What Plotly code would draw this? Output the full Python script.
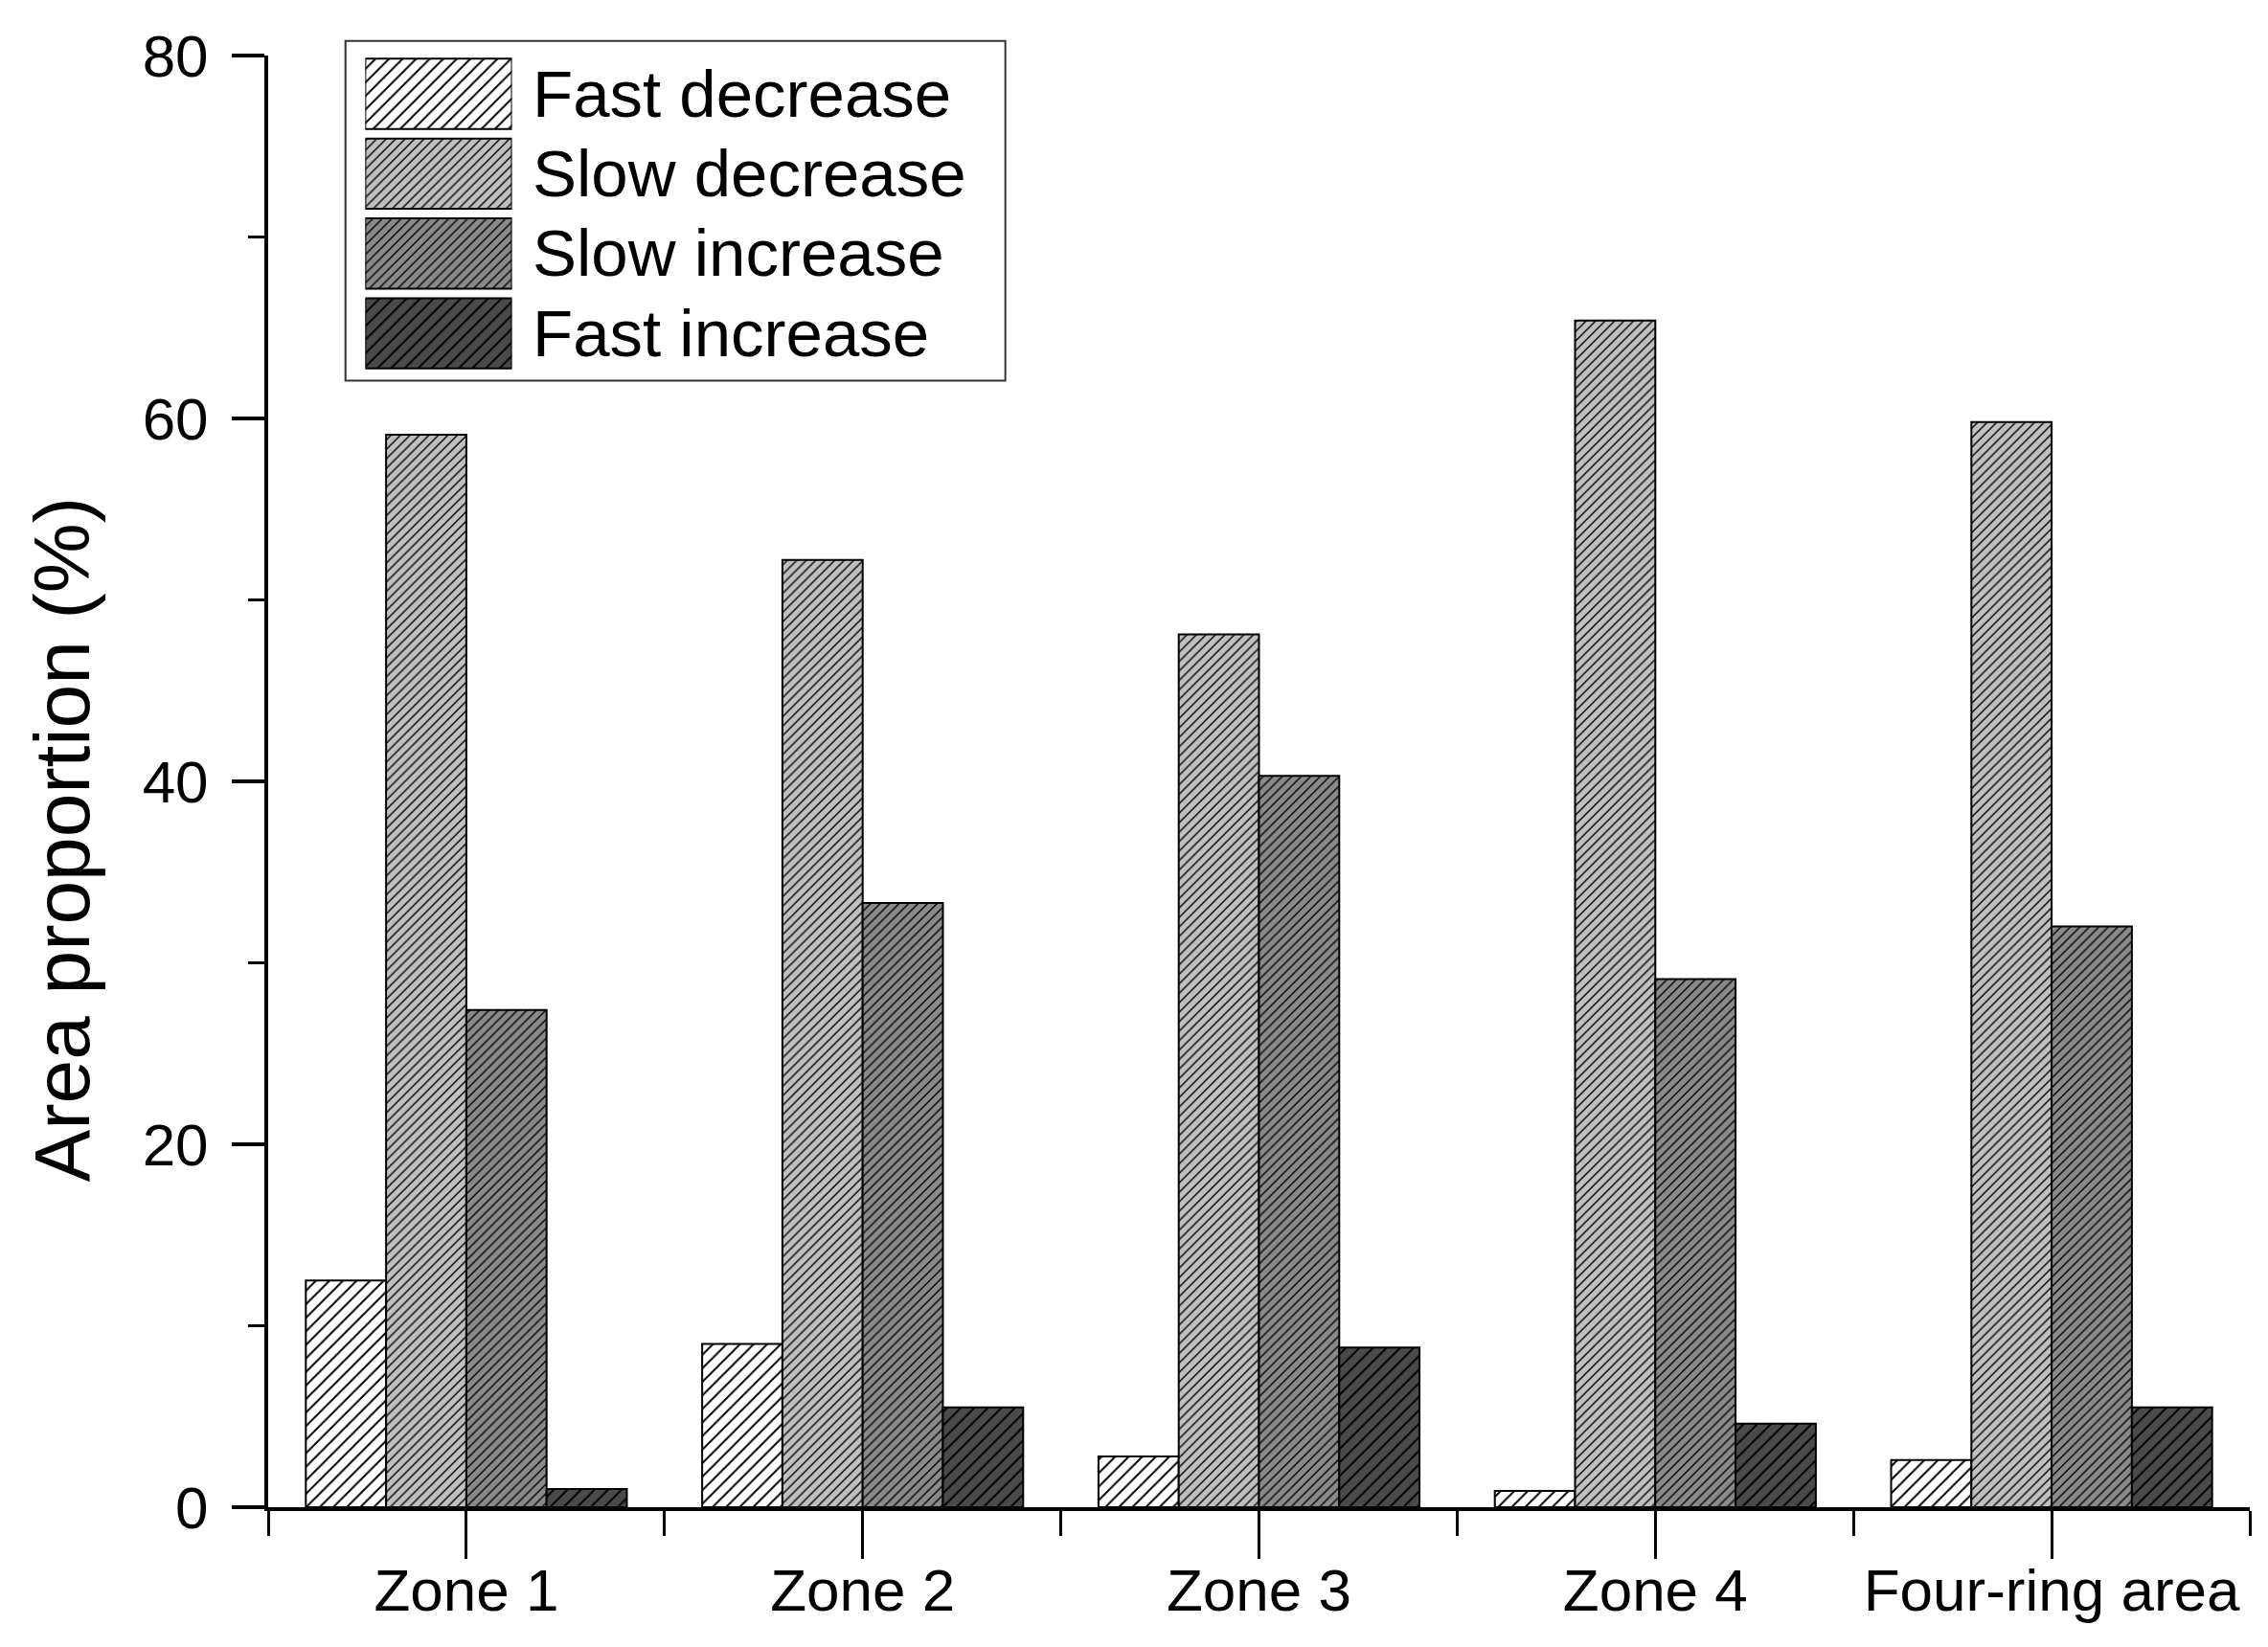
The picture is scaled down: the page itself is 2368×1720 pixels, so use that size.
import plotly.graph_objects as go

categories = ["Zone 1", "Zone 2", "Zone 3", "Zone 4", "Four-ring area"]
series_names = ["Fast decrease", "Slow decrease", "Slow increase", "Fast increase"]
fast_decrease = [12.5, 9.0, 2.8, 0.9, 2.6]
slow_decrease = [59.1, 52.2, 48.1, 65.4, 59.8]
slow_increase = [27.4, 33.3, 40.3, 29.1, 32.0]
fast_increase = [1.0, 5.5, 8.8, 4.6, 5.5]
y_ticks = [0, 20, 40, 60, 80]

series_values = [fast_decrease, slow_decrease, slow_increase, fast_increase]
fill_colors = ["#ffffff", "#c0c0c0", "#8a8a8a", "#4a4a4a"]
pattern_sizes = [10, 7, 7, 10]

FONT = "Liberation Sans, Arial, sans-serif"
x_pos = list(range(len(categories)))

fig = go.Figure()
for name, vals, col, ps in zip(series_names, series_values, fill_colors, pattern_sizes):
    fig.add_trace(go.Bar(
        x=x_pos, y=vals, name=name,
        marker=dict(color=col, line=dict(color="black", width=2),
                    pattern=dict(shape="/", fgcolor="black", bgcolor=col,
                                 size=ps, solidity=0.2, fillmode="replace")),
        showlegend=False, xaxis="x", yaxis="y",
    ))

# custom legend swatches (inset axes)
for name, col, ps in zip(series_names, fill_colors, pattern_sizes):
    fig.add_trace(go.Bar(
        x=[1], y=[name], orientation="h", width=0.88, offset=-0.44,
        marker=dict(color=col, line=dict(color="black", width=2),
                    pattern=dict(shape="/", fgcolor="black", bgcolor=col,
                                 size=ps, solidity=0.2, fillmode="replace")),
        showlegend=False, xaxis="x2", yaxis="y2", hoverinfo="skip",
    ))
    fig.add_annotation(x=1, y=name, xref="x2", yref="y2", text=name,
                       showarrow=False, xanchor="left", yanchor="middle",
                       xshift=20, font=dict(family=FONT, size=69, color="black"))

fig.add_shape(type="rect", xref="paper", yref="paper",
              x0=0.039, x1=0.372, y0=0.776, y1=1.010,
              line=dict(color="#333333", width=2), fillcolor="rgba(0,0,0,0)", layer="below")

fig.add_annotation(text="Area proportion (%)", xref="paper", yref="paper",
                   x=-0.104, y=0.46, textangle=-90, showarrow=False,
                   xanchor="center", yanchor="middle",
                   font=dict(family=FONT, size=82, color="black"))

fig.update_layout(
    width=2368, height=1720,
    margin=dict(l=272, r=27, t=50, b=154),
    paper_bgcolor="white", plot_bgcolor="white",
    barmode="group", bargap=0.19, bargroupgap=0,
    font=dict(family=FONT, color="black"),
    xaxis=dict(
        range=[-0.5, 4.5], tickvals=x_pos, ticktext=categories,
        showline=True, linecolor="black", linewidth=4, mirror=False,
        ticks="outside", ticklen=50, tickwidth=3, tickcolor="black",
        minor=dict(tick0=-0.5, dtick=1, ticks="outside", ticklen=26, tickwidth=3, tickcolor="black"),
        showgrid=False, zeroline=False, automargin=False,
        tickfont=dict(family=FONT, size=62, color="black"),
        ticklabelstandoff=-20,
    ),
    yaxis=dict(
        range=[0, 80], tickvals=y_ticks,
        showline=True, linecolor="black", linewidth=4,
        ticks="outside", ticklen=34, tickwidth=4, tickcolor="black",
        minor=dict(dtick=10, ticks="outside", ticklen=17, tickwidth=3, tickcolor="black"),
        showgrid=False, zeroline=False, automargin=False,
        tickfont=dict(family=FONT, size=62, color="black"),
        ticklabelstandoff=12,
    ),
    xaxis2=dict(domain=[0.0490, 0.1230], range=[0, 1], visible=False, anchor="y2", fixedrange=True),
    yaxis2=dict(domain=[0.780, 1.0], type="category", categoryorder="array",
                categoryarray=series_names[::-1], range=[-0.52, 3.48], visible=False, anchor="x2"),
)

fig.write_html("out.html")
